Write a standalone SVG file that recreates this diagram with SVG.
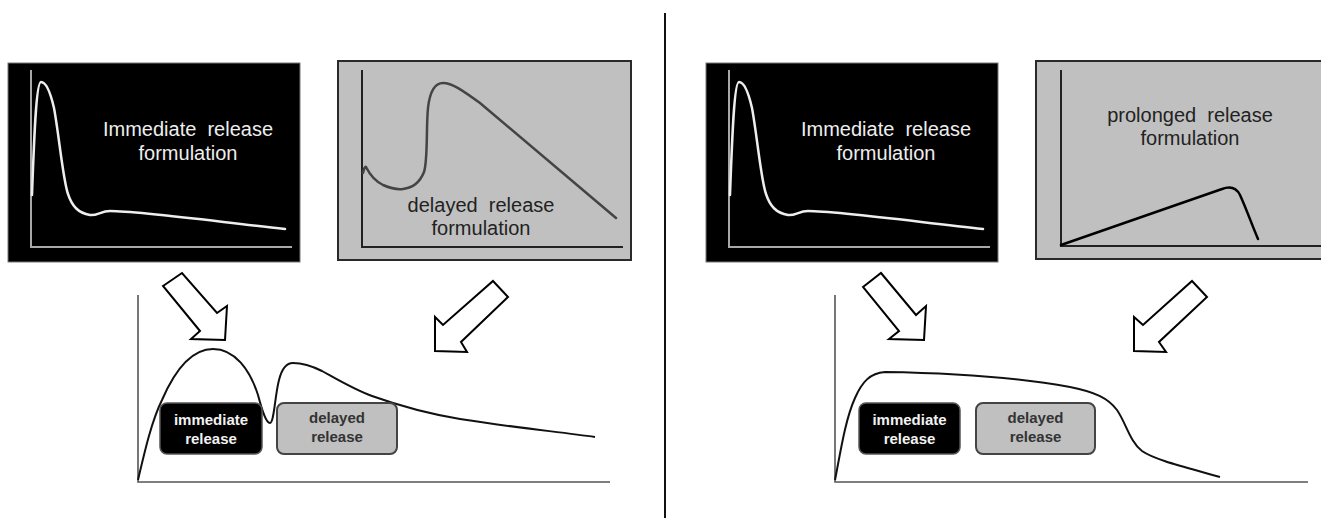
<svg xmlns="http://www.w3.org/2000/svg" width="1321" height="518" viewBox="0 0 1321 518">
<style>
.bk{fill:#000;stroke:#777;stroke-width:1}
.gy{fill:#c0c0c0;stroke:#2a2a2a;stroke-width:2}
.axw{stroke:#a8a8a8;stroke-width:2;fill:none}
.axd{stroke:#222;stroke-width:2;fill:none}
.axb{stroke:#555;stroke-width:1.6;fill:none}
.cw{stroke:#eee;stroke-width:2.5;fill:none;stroke-linecap:round}
.cd{stroke:#444;stroke-width:2.5;fill:none;stroke-linecap:round}
.cb{stroke:#000;stroke-width:2.5;fill:none;stroke-linecap:round}
.cm{stroke:#111;stroke-width:2;fill:none}
.tw{font-family:"Liberation Sans",Arial,sans-serif;font-size:20px;fill:#eee;text-anchor:middle}
.td{font-family:"Liberation Sans",Arial,sans-serif;font-size:20px;fill:#222;text-anchor:middle}
.bb{fill:#000;stroke:#555;stroke-width:1.5}
.bg{fill:#c0c0c0;stroke:#444;stroke-width:2}
.sw{font-family:"Liberation Sans",Arial,sans-serif;font-size:15px;font-weight:bold;fill:#f2f2f2;text-anchor:middle}
.sd{font-family:"Liberation Sans",Arial,sans-serif;font-size:15px;font-weight:bold;fill:#333;text-anchor:middle}
.ar{fill:#fff;stroke:#000;stroke-width:2;stroke-linejoin:miter}
</style>

<g id="divider">
<line x1="665" y1="13" x2="665" y2="518" stroke="#111" stroke-width="2"/>
</g>

<g id="ir-left">
<rect class="bk" x="8" y="63" width="292" height="199"/>
<path class="axw" d="M31,70 V247 H292"/>
<path class="cw" d="M32,195 C34,140 36,82 41,82 C47,82 51,95 54,108 C59,135 63,180 68,194 C72,206 78,213 90,215 C97,216 101,211 110,211 C140,211 220,222 285,229"/>
<text class="tw" x="188" y="136" xml:space="preserve">Immediate  release</text>
<text class="tw" x="188" y="160">formulation</text>
</g>

<g id="dr-left">
<rect class="gy" x="338" y="61" width="293" height="199"/>
<path class="axd" d="M362,70 V247 H623"/>
<path class="cd" d="M363,173 C364,169 365,166 366,167 C370,175 375,181 383,185 C390,188 396,190 403,189 C412,188 420,182 424,172 C428,160 426,128 428,108 C430,90 435,83 443,83 C452,83 462,90 480,103 L616,218"/>
<text class="td" x="481" y="212" xml:space="preserve">delayed  release</text>
<text class="td" x="481" y="235">formulation</text>
</g>

<g id="ir-right">
<rect class="bk" x="706" y="63" width="292" height="199"/>
<path class="axw" d="M729,70 V247 H990"/>
<path class="cw" transform="translate(698,0)" d="M32,195 C34,140 36,82 41,82 C47,82 51,95 54,108 C59,135 63,180 68,194 C72,206 78,213 90,215 C97,216 101,211 110,211 C140,211 220,222 285,229"/>
<text class="tw" x="886" y="136" xml:space="preserve">Immediate  release</text>
<text class="tw" x="886" y="160">formulation</text>
</g>

<g id="pr-right">
<rect class="gy" x="1036" y="61" width="293" height="198"/>
<path class="axd" d="M1061,70 V246 H1321"/>
<path class="cb" d="M1061,245 L1222,189 C1230,186 1236,187 1240,195 C1246,208 1252,225 1258,239"/>
<text class="td" x="1190" y="122" xml:space="preserve">prolonged  release</text>
<text class="td" x="1190" y="145">formulation</text>
</g>

<g id="combined-left">
<path class="axb" d="M138,295 V482 H610"/>
<path class="cm" d="M138,480 C145,450 152,420 162,400 C175,370 192,349 213,349 C235,349 250,370 258,395 C262,410 266,423 270,423 C274,423 275,395 279,380 C282,368 287,363 293,363 C303,363 312,366 322,371 C340,381 355,390 372,396 C400,406 430,414 460,419 C510,427 560,432 595,437"/>
<g id="ir-box-left">
<rect class="bb" x="160" y="403" width="102" height="51" rx="7"/>
<text class="sw" x="211" y="425">immediate</text>
<text class="sw" x="211" y="444">release</text>
</g>
<g id="dr-box-left">
<rect class="bg" x="277" y="403" width="120" height="51" rx="7"/>
<text class="sd" x="337" y="423">delayed</text>
<text class="sd" x="337" y="442">release</text>
</g>
</g>

<g id="combined-right">
<path class="axb" d="M835,295 V482 H1308"/>
<path class="cm" d="M835,480 C840,455 845,420 855,398 C862,382 870,373 885,372 C950,373 1020,378 1070,387 C1095,392 1108,398 1117,410 C1126,423 1130,442 1142,451 C1155,460 1185,467 1220,477"/>
<g id="ir-box-right">
<rect class="bb" x="859" y="403" width="101" height="51" rx="7"/>
<text class="sw" x="909.5" y="425">immediate</text>
<text class="sw" x="909.5" y="444">release</text>
</g>
<g id="dr-box-right">
<rect class="bg" x="976" y="403" width="119" height="51" rx="7"/>
<text class="sd" x="1035.5" y="423">delayed</text>
<text class="sd" x="1035.5" y="442">release</text>
</g>
</g>

<g id="connectors">
<polygon class="ar" points="163,286 182,273 217,313 227,306 225,340 191,339 200,331"/>
<polygon class="ar" points="493,281 508,297 461,342 467,352 435,351 435,317 443,325"/>
<polygon class="ar" points="863,287 881,273 916,315 926,306 924,340 889,339 899,331"/>
<polygon class="ar" points="1192,281 1207,297 1159,342 1166,352 1134,351 1134,317 1143,325"/>
</g>
</svg>
